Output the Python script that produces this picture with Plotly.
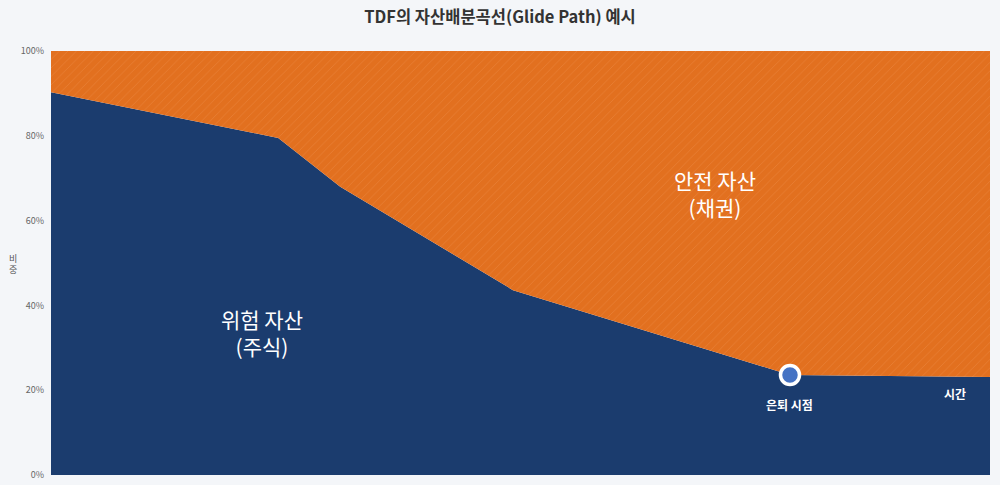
import plotly.graph_objects as go

# glide path (time axis 0~100, share in %)
time_pts = [0, 24.2, 30.8, 49.2, 78.7, 100]
stock_share = [90.3, 79.5, 68.0, 43.6, 23.6, 23.1]
bond_share = [100 - v for v in stock_share]

retire_time = 78.7
retire_share = 23.6

y_ticks = [0, 20, 40, 60, 80, 100]
y_labels = ["0%", "20%", "40%", "60%", "80%", "100%"]

NAVY = "#1b3c6e"
ORANGE = "#e2701f"
BG = "#f4f6f9"
FONT = "Noto Sans CJK KR"

fig = go.Figure()
fig.add_trace(go.Scatter(x=time_pts, y=stock_share, stackgroup="a", mode="none",
                         fillcolor=NAVY, name="위험 자산", hoverinfo="skip"))
fig.add_trace(go.Scatter(x=time_pts, y=bond_share, stackgroup="a", mode="none",
                         fillcolor=ORANGE, name="안전 자산", hoverinfo="skip",
                         fillpattern=dict(shape="/", fgcolor="#ee9350", bgcolor=ORANGE,
                                          size=6, solidity=0.12)))
fig.add_trace(go.Scatter(x=[retire_time], y=[retire_share], mode="markers",
                         marker=dict(size=19, color="#4472c4", line=dict(color="white", width=3.5)),
                         hoverinfo="skip"))

fig.add_annotation(x=retire_time, y=retire_share, text="<b>은퇴 시점</b>", showarrow=False,
                   yshift=-30, font=dict(size=12, color="white", family=FONT))
fig.add_annotation(x=96.3, y=19.3, text="<b>시간</b>", showarrow=False,
                   font=dict(size=12, color="white", family=FONT))
fig.add_annotation(x=22.5, y=33.5, text="위험 자산<br>(주식)", showarrow=False,
                   font=dict(size=21, color="white", family=FONT))
fig.add_annotation(x=70.7, y=66.5, text="안전 자산<br>(채권)", showarrow=False,
                   font=dict(size=21, color="white", family=FONT))
# y axis title, written top to bottom
for i, ch in enumerate(["비", "중"]):
    fig.add_annotation(xref="paper", yref="paper", x=-0.041, y=0.51 - i * 0.026,
                       xanchor="center", yanchor="middle", text=ch, showarrow=False,
                       font=dict(size=9, color="#555", family=FONT))

fig.update_layout(
    width=1000, height=485,
    paper_bgcolor=BG, plot_bgcolor=BG,
    margin=dict(l=51, r=10, t=51, b=10),
    showlegend=False,
    title=dict(text="<b>TDF의 자산배분곡선(Glide Path) 예시</b>", x=0.5, y=0.965,
               xanchor="center", yanchor="middle",
               font=dict(size=16.5, color="#333", family=FONT)),
    font=dict(family=FONT),
)
fig.update_xaxes(range=[0, 100], showgrid=False, zeroline=False, showticklabels=False,
                 showline=False, automargin=False)
fig.update_yaxes(range=[0, 100], tickvals=y_ticks, ticktext=y_labels, showgrid=False,
                 zeroline=False, showline=False, ticklabelstandoff=6, automargin=False,
                 tickfont=dict(size=9, color="#666", family=FONT))

fig.write_html("out.html", config={"displayModeBar": False},
               post_script="document.body.style.margin='0';document.body.style.overflow='hidden';")
